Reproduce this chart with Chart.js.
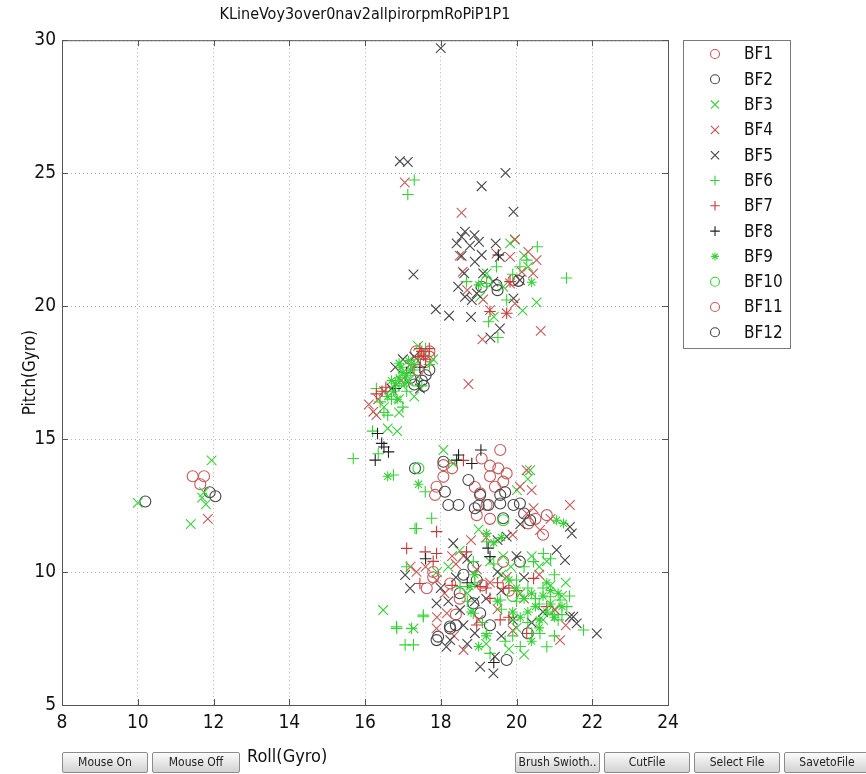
<!DOCTYPE html>
<html>
<head>
<meta charset="utf-8">
<script src="https://cdn.jsdelivr.net/npm/chart.js@4/dist/chart.umd.min.js"></script>
<style>
  html, body { margin: 0; padding: 0; background: #fff; }
  #wrap { position: relative; width: 866px; height: 774px; overflow: hidden; background: #fff; }
  #plot { position: absolute; left: 0; top: 0; }
  .btn {
    position: absolute; top: 752px; height: 21px; box-sizing: border-box;
    border: 1px solid #8c8c8c; border-radius: 2px;
    background: linear-gradient(#fbfbfb, #d2d2d2);
    font: 12px "Liberation Sans Narrow", "DejaVu Sans Condensed", sans-serif;
    color: #222; text-align: center; line-height: 19px; white-space: nowrap; overflow: hidden;
  }
  #xtitle {
    position: absolute; left: 247px; top: 745px;
    font: 18px "Liberation Sans Narrow", "DejaVu Sans Condensed", sans-serif; color: #111;
  }
</style>
</head>
<body>
<div id="wrap">
  <canvas id="plot" width="866" height="774"></canvas>
  <div id="xtitle">Roll(Gyro)</div>
  <div class="btn" style="left:62px;width:86px">Mouse On</div>
  <div class="btn" style="left:152px;width:88px">Mouse Off</div>
  <div class="btn" style="left:515px;width:85px">Brush Swioth..</div>
  <div class="btn" style="left:604px;width:86px">CutFile</div>
  <div class="btn" style="left:694px;width:86px">Select File</div>
  <div class="btn" style="left:784px;width:86px">SavetoFile</div>
</div>
<script>
// roll / pitch samples per file, [roll, pitch]
const bf1 = [[11.45,13.6],[11.75,13.6],[11.65,13.3],[17.55,18.2],[17.7,18.1],[17.35,18.3],[17.6,17.9],
  [19.57,14.59],[19.08,14.27],[19.52,13.9],[19.74,13.71],[19.65,13.4],[19.43,13.21],[18.07,14.02],[18.07,13.58],
  [17.89,13.21],[17.85,12.9],[18.95,12.14],[19.21,12.52],[19.04,12.96],[20.31,11.83],[20.8,12.14],[18.25,9.57],
  [17.63,9.39],[19.65,10.39],[19.1,9.5],[19.8,9.3],[19.3,13.6],[18.9,13.2],[19.92,20.98],[20.5,12.0],[18.4,8.4],[17.8,9.8]];
const bf2 = [[10.2,12.65],[11.9,13.0],[12.05,12.85],[17.6,17.4],[17.5,17.2],[17.3,17.05],[17.7,17.6],[17.2,17.3],
  [17.32,13.9],[18.07,14.15],[18.47,12.52],[18.2,12.52],[18.11,13.02],[18.73,13.46],[19.0,12.5],[19.26,12.52],
  [19.57,12.58],[19.92,12.52],[20.09,12.58],[19.04,12.9],[19.57,12.9],[20.36,11.95],[20.09,10.39],[18.86,10.2],
  [18.95,9.7],[18.25,7.88],[17.89,7.44],[19.74,6.69],[18.86,8.82],[19.04,8.45],[19.65,12.02],[19.08,20.73],
  [19.47,20.79],[20.05,20.95],[18.5,9.2],[19.3,8.0],[20.3,7.7],[18.6,9.9],[18.24,7.95],[17.93,7.57]];
const bf3 = [[10.0,12.6],[11.4,11.8],[11.95,14.2],[11.7,12.8],[11.8,12.55],[11.75,13.0],
  [16.6,15.4],[16.85,15.3],[16.5,16.2],[17.0,17.0],[16.9,16.5],[17.4,18.5],[17.8,18.0],[17.15,17.2],
  [16.9,16.0],[17.3,16.6],
  [19.83,22.36],[19.95,22.5],[20.31,21.48],[20.2,21.9],[19.21,21.23],[19.04,20.35],[19.65,20.73],[20.53,20.14],
  [20.16,19.83],[19.4,19.6],[16.48,8.57],[17.28,7.88],[20.36,13.83],[20.01,13.08],[20.3,13.5],[18.07,14.59],
  [18.33,14.08],[19.65,10.6],[19.85,10.2],[20.6,10.2],[20.9,9.5],[21.0,8.6],[20.0,7.9],[19.2,7.3],[18.5,10.8],
  [20.7,8.2],[21.2,9.1],[17.9,10.0],[19.3,10.4],[19.6,9.9],[20.1,9.2],[20.4,10.6],[20.8,10.4],[21.3,9.6],
  [19.8,7.1],[20.2,6.9],[18.7,9.2],[18.2,10.2],[19.0,11.6]];
const bf4 = [[11.85,12.0],[17.05,24.65],[18.55,23.51],[18.73,17.07],[20.64,19.07],[19.1,18.75],
  [18.58,21.29],[19.12,20.25],[19.47,21.98],[19.83,21.85],[19.96,22.51],[20.31,22.04],[20.53,21.73],[20.44,21.23],
  [20.14,21.29],[19.83,20.85],[19.96,20.1],[19.74,19.73],[19.3,19.85],[18.7,20.6],[18.5,21.9],
  [16.22,16.03],[16.35,16.5],[16.1,16.3],[16.5,16.8],[16.95,17.2],[17.2,17.8],[16.3,15.9],
  [17.36,10.01],[17.2,10.2],[17.89,9.7],[18.3,10.6],[18.4,10.3],[18.6,10.6],[18.95,10.1],[17.89,7.88],[18.16,8.45],
  [18.6,7.07],[19.3,9.6],[19.74,9.82],[20.27,12.2],[20.45,12.4],[20.62,11.58],[21.41,12.52],[20.09,13.21],
  [20.27,13.83],[20.4,13.08],[20.9,12.0],[21.02,8.57],[21.15,7.44],[19.9,11.4],[19.2,11.3],[20.2,9.0],[19.0,8.2],
  [18.1,9.2],[17.9,8.3],[18.35,7.6],[19.5,8.6],[19.9,7.8],[20.6,9.9],[21.3,8.0],[18.8,11.2],[17.6,10.2]];
const bf5 = [[18.0,29.7],[16.92,25.45],[17.13,25.42],[17.28,21.19],[19.71,25.01],[19.08,24.51],[19.92,23.55],
  [17.87,19.88],[18.22,19.64],[18.8,19.59],[19.31,18.82],
  [18.42,22.36],[18.55,22.61],[18.64,22.8],[18.77,22.27],[18.89,22.67],[19.01,22.42],[18.55,21.89],[19.08,21.92],
  [18.9,21.67],[19.45,22.36],[19.56,21.85],[18.62,21.23],[18.46,20.73],[18.64,20.35],[18.82,20.23],[19.12,21.23],
  [19.39,20.92],[19.56,19.16],[18.95,20.48],[19.92,20.29],[20.09,20.98],
  [16.8,17.7],[17.0,18.0],[17.3,18.1],[16.7,16.9],[17.45,16.9],
  [17.06,9.89],[17.19,9.39],[17.89,8.82],[18.25,7.44],[18.51,8.57],[19.39,6.19],[19.04,6.44],[19.43,6.82],[18.7,7.3],
  [19.9,8.2],[20.4,8.1],[21.06,10.83],[21.28,10.45],[21.41,11.7],[21.46,11.45],[22.12,7.69],[21.5,8.32],
  [18.33,11.08],[18.7,10.5],[19.74,11.33],[19.5,11.2],[18.4,9.8],[19.2,9.0],[20.0,10.6],[18.9,8.9],
  [18.0,9.4],[18.2,8.9],[18.6,8.0],[18.9,7.7],[19.6,7.6],[20.2,9.8],[20.7,8.5],[21.41,8.32],[21.59,8.07],
  [19.6,9.3],[18.15,7.19],[20.1,11.8],[19.5,10.0]];
const bf6 = [[17.3,24.74],[17.13,24.2],[21.32,21.06],[19.51,18.82],[20.55,22.23],[20.27,21.73],[20.09,21.48],
  [19.47,21.48],[19.21,20.85],[18.68,20.92],[19.74,20.23],[19.26,19.41],[19.9,21.2],
  [16.4,16.4],[16.7,16.5],[17.1,16.8],[17.3,17.6],[16.9,17.0],[17.6,18.4],[16.3,16.9],[17.5,17.0],[16.6,15.9],
  [17.0,16.2],[16.5,16.0],[17.4,18.0],[17.7,17.8],[16.2,15.3],[16.35,14.45],
  [15.69,14.27],[16.75,13.65],[17.59,13.02],[17.76,12.02],[17.32,11.64],[16.84,7.88],[17.06,7.26],[17.28,7.26],
  [17.54,8.38],[17.23,7.88],[17.1,10.2],[18.86,10.39],[19.21,11.14],[19.57,8.95],[20.0,9.7],[20.45,10.39],
  [20.71,10.7],[20.89,9.07],[21.15,8.95],[21.33,8.7],[21.77,7.82],[20.62,7.69],[20.8,7.19],[19.21,7.69],[19.3,6.94],
  [18.86,8.45],[18.51,9.45],[19.92,8.2],[20.3,9.4],[20.6,8.8],[21.0,9.9],[20.4,7.7],[19.7,7.4],[18.9,9.6],
  [20.2,10.2],[21.2,8.4],[20.5,9.0],[20.7,9.4],[20.95,8.4],[21.1,8.2],[21.4,9.1],[20.3,8.1],[19.9,7.6],[20.1,7.2],
  [19.6,8.6],[20.9,10.5],[19.4,10.3],[18.7,8.9],[17.54,8.32],[16.83,7.94],[17.36,11.64],[20.0,8.9],[21.0,7.6],[19.1,8.1]];
const bf7 = [[17.5,18.3],[17.6,18.0],[17.4,18.1],[17.7,18.4],[17.55,18.15],[17.45,18.4],[16.45,16.8],[16.55,16.95],
  [16.3,16.7],[19.83,20.92],[19.3,19.8],[19.74,19.73],
  [17.1,10.89],[17.59,10.76],[17.89,11.52],[17.89,10.7],[17.8,10.4],[18.68,10.76],[19.3,9.01],[19.65,9.39],
  [19.04,9.45],[19.57,8.2],[19.8,8.3],[20.45,9.76],[20.27,7.69],[18.95,8.01],[17.45,9.57],[18.6,14.2],[18.3,9.5],
  [20.8,8.7],[19.2,9.4],[19.5,9.6],[19.8,9.4],[20.0,9.3]];
const bf8 = [[16.33,15.21],[16.44,14.84],[16.27,14.21],[16.62,14.52],[16.5,14.7],[18.47,14.4],[18.42,14.21],
  [19.06,14.59],[18.82,14.08],[19.3,10.58],[19.25,10.9],[19.52,21.92],[17.1,17.5],[16.8,16.9],[17.45,17.7],
  [17.6,10.5],[18.7,9.6],[19.4,6.6]];
const bf9 = [[16.9,17.3],[17.0,17.5],[16.8,17.1],[17.1,17.4],[16.95,17.7],[17.2,17.6],[16.75,16.8],[16.6,16.6],
  [17.3,17.8],[16.85,16.5],[16.7,17.2],[17.05,17.1],[16.9,17.85],[17.15,17.95],
  [16.6,13.6],[17.41,13.3],[21.06,11.95],[21.24,11.83],[19.21,11.45],[19.4,11.1],
  [19.6,11.3],[18.8,8.5],[18.77,9.45],[18.9,9.9],[19.9,8.5],[20.2,9.0],[20.5,8.7],[20.7,9.1],[20.9,8.8],[21.1,9.2],
  [20.6,8.2],[20.4,7.4],[20.3,8.5],[19.2,7.6],[19.0,7.2],[20.0,9.4],[20.8,9.6],[21.0,8.3],[19.0,20.8],[20.4,20.9],
  [20.4,9.2],[20.8,8.5],[21.2,8.7],[20.1,8.3],[19.5,8.9],[20.9,9.3],[20.6,7.9],[19.8,9.7]];
const bf10 = [[17.41,13.9],[19.65,11.95],[19.21,20.92],[17.3,17.2],[19.9,9.1]];
const bf11 = [[17.7,18.3],[17.4,17.6],[18.3,13.9],[19.3,12.0],[20.7,11.4],[18.5,9.0],[19.3,14.0],[17.8,10.0]];
const bf12 = [[17.55,17.0],[18.9,12.4],[19.7,13.0],[18.4,8.0],[20.2,12.2],[19.5,20.6]];

const seriesNames = ['BF1', 'BF2', 'BF3', 'BF4', 'BF5', 'BF6', 'BF7', 'BF8', 'BF9', 'BF10', 'BF11', 'BF12'];
const seriesData = [bf1, bf2, bf3, bf4, bf5, bf6, bf7, bf8, bf9, bf10, bf11, bf12];
const xTicks = [8, 10, 12, 14, 16, 18, 20, 22, 24];
const yTicks = [5, 10, 15, 20, 25, 30];

// marker style per file (matlab-like o, x, + and *)
const RED = '#c65a5a', DARK = '#444444', GREEN = '#38d238';
const markerColor = [RED, DARK, GREEN, RED, DARK, GREEN, '#c83a3a', '#1e1e1e', GREEN, GREEN, RED, DARK];
const markerStyle = ['circle', 'circle', 'crossRot', 'crossRot', 'crossRot', 'cross', 'cross', 'cross', 'star', 'circle', 'circle', 'circle'];
const markerSize = { circle: 5.5, crossRot: 6.8, cross: 5.8, star: 5 };
const NARROW = '"Liberation Sans Narrow", "DejaVu Sans Condensed", sans-serif';

const datasets = seriesData.map(function (pts, i) {
  return {
    label: seriesNames[i],
    data: pts.map(function (p) { return { x: p[0], y: p[1] }; }),
    pointStyle: markerStyle[i],
    pointRadius: markerSize[markerStyle[i]],
    pointBorderWidth: 1.1,
    pointBorderColor: markerColor[i],
    pointBackgroundColor: 'rgba(0,0,0,0)',
    showLine: false,
    order: seriesNames.length - i   // later files drawn on top
  };
});

// box around the axes, with short inward ticks on all four sides
const framePlugin = {
  id: 'frame',
  afterDraw: function (chart) {
    const ctx = chart.ctx, a = chart.chartArea;
    const xs = chart.scales.x, ys = chart.scales.y;
    ctx.save();
    ctx.strokeStyle = '#555';
    ctx.lineWidth = 1;
    ctx.strokeRect(a.left + 0.5, a.top + 0.5, a.right - a.left, a.bottom - a.top);
    ctx.beginPath();
    xTicks.forEach(function (v) {
      const px = Math.round(xs.getPixelForValue(v)) + 0.5;
      ctx.moveTo(px, a.bottom); ctx.lineTo(px, a.bottom - 6);
      ctx.moveTo(px, a.top); ctx.lineTo(px, a.top + 6);
    });
    yTicks.forEach(function (v) {
      const py = Math.round(ys.getPixelForValue(v)) + 0.5;
      ctx.moveTo(a.left, py); ctx.lineTo(a.left + 6, py);
      ctx.moveTo(a.right, py); ctx.lineTo(a.right - 6, py);
    });
    ctx.stroke();
    ctx.restore();
  }
};

// boxed legend to the right of the axes
const boxLegend = {
  id: 'boxLegend',
  afterDraw: function (chart) {
    const ctx = chart.ctx;
    const left = 683, top = 40, w = 107, h = 308;
    ctx.save();
    ctx.fillStyle = '#fff';
    ctx.fillRect(left, top, w, h);
    ctx.strokeStyle = '#7a7a7a';
    ctx.lineWidth = 1;
    ctx.strokeRect(left + 0.5, top + 0.5, w, h);
    ctx.font = '17px ' + NARROW;
    ctx.textBaseline = 'middle';
    seriesNames.forEach(function (name, i) {
      const y = top + 14 + i * 25.3;
      ctx.strokeStyle = markerColor[i];
      ctx.fillStyle = 'rgba(0,0,0,0)';
      ctx.lineWidth = 1.1;
      Chart.helpers.drawPoint(ctx, {
        pointStyle: markerStyle[i], rotation: 0,
        radius: markerSize[markerStyle[i]] - 1, borderWidth: 1.1
      }, 715, y);
      ctx.fillStyle = '#111';
      ctx.fillText(name, 744, y + 1);
    });
    ctx.restore();
  }
};

new Chart(document.getElementById('plot'), {
  type: 'scatter',
  data: { datasets: datasets },
  plugins: [framePlugin, boxLegend],
  options: {
    responsive: false,
    animation: false,
    events: [],
    layout: { padding: { left: 0, right: 198, top: 0, bottom: 29 } },
    plugins: {
      legend: { display: false },
      tooltip: { enabled: false },
      title: {
        display: true,
        fullSize: false,
        text: 'KLineVoy3over0nav2allpirorpmRoPiP1P1',
        color: '#111',
        font: { family: NARROW, size: 16, weight: 'normal' },
        padding: { top: 5, bottom: 16 }
      }
    },
    scales: {
      x: {
        type: 'linear', min: 8, max: 24,
        afterFit: function (s) { s.height = 40; },
        afterBuildTicks: function (s) { s.ticks = xTicks.map(function (v) { return { value: v }; }); },
        ticks: { color: '#111', padding: 7, font: { family: NARROW, size: 19 } },
        grid: { color: '#b4b4b4', drawTicks: false },
        border: { color: '#555', dash: [1, 3] }
      },
      y: {
        type: 'linear', min: 5, max: 30,
        afterFit: function (s) { s.width = 62; },
        afterBuildTicks: function (s) { s.ticks = yTicks.map(function (v) { return { value: v }; }); },
        ticks: { color: '#111', padding: 6, font: { family: NARROW, size: 19 } },
        grid: { color: '#b4b4b4', drawTicks: false },
        border: { color: '#555', dash: [1, 3] },
        title: {
          display: true, text: 'Pitch(Gyro)', color: '#111',
          font: { family: NARROW, size: 17 },
          padding: { top: 20, bottom: 0 }
        }
      }
    }
  }
});
</script>
</body>
</html>
